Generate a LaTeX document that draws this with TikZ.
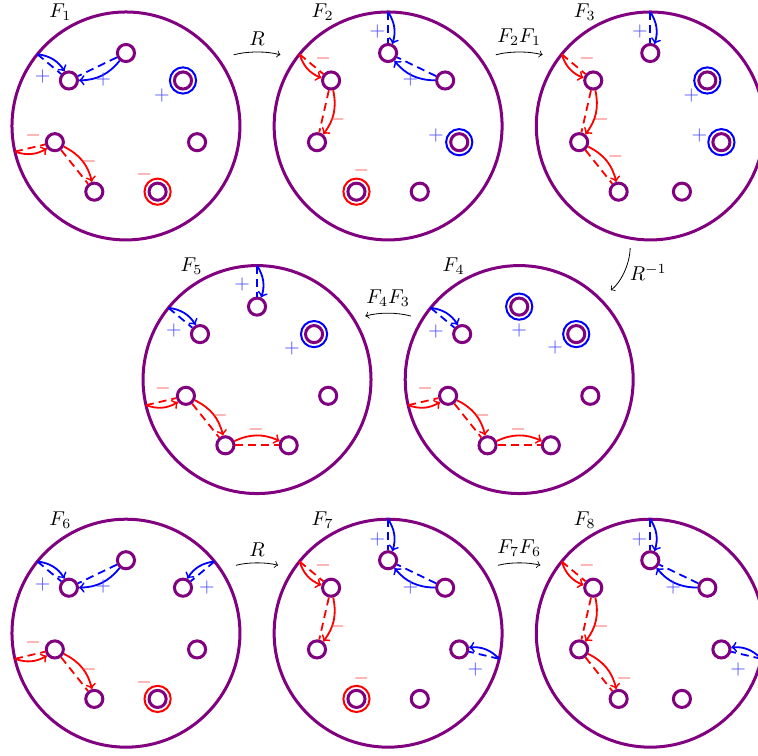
\documentclass[tikz,border=0pt]{standalone}
\usepackage{amsmath}
\usepackage{tikz}
\usetikzlibrary{calc}
\definecolor{surf}{rgb}{0.5,0,0.5}
\tikzset{
  disk/.style={circle,draw=surf,line width=1.5pt,minimum size=4cm,inner sep=0pt,outer sep=0pt},
  punct/.style={circle,draw=surf,line width=1.5pt,minimum size=0.3cm,inner sep=0pt},
  ring/.style={line width=1pt},
  band/.style={line width=0.9pt},
  bandback/.style={line width=0.9pt,dash pattern=on 4pt off 2.5pt},
  pl/.style={text=blue!70,inner sep=0pt},
  mi/.style={text=red!70,inner sep=0pt}
}

\begin{document}
\begin{tikzpicture}
  \useasboundingbox (-2.21,2.21) rectangle (11.09,-11.04);
  % disks with seven punctures each
  \foreach \d/\xx/\yy in {1/0/0,2/4.6/0,3/9.2/0,4/6.9/-4.45,5/2.3/-4.45,6/0/-8.9,7/4.6/-8.9,8/9.2/-8.9} {
    \node[disk] (d\d) at (\xx,\yy) {};
    \node (f\d) at ($(d\d)+(120:2.3)$) {$F_\d$};
    \foreach \k in {0,...,6}
      \node[punct] (d\d-\k) at ($(d\d)+(90+\k*360/7:1.28)$) {};
  }
  % marked punctures
  \foreach \p in {1-6,2-5,3-6,3-5,4-0,4-6,5-6} \draw[ring,blue] (d\p) circle (0.23);
  \foreach \p in {1-4,2-3,6-4,7-3} \draw[ring,red] (d\p) circle (0.23);
  % arcs: solid with tip, dashed companion
  \foreach \a/\b/\s in {d1.141/d1-1/25,d1-0/d1-1/25,d2.90/d2-0/25,d2-6/d2-0/25,d3.90/d3-0/25,
      d4.141/d4-1/25,d5.90/d5-0/25,d5.141/d5-1/25,d6.141/d6-1/25,d6-0/d6-1/25,d6.39/d6-6/-25,
      d7.90/d7-0/25,d7-6/d7-0/25,d7.347/d7-5/-25,d8.90/d8-0/25,d8-6/d8-0/25,d8.347/d8-5/-25} {
    \draw[band,blue,->] (\a) to[bend left=\s] (\b);
    \draw[bandback,blue] (\a) -- (\b);
  }
  \foreach \a/\b/\s in {d1.193/d1-2/-25,d1-2/d1-3/25,d2.141/d2-1/-25,d2-1/d2-2/25,
      d3.141/d3-1/-25,d3-1/d3-2/25,d3-2/d3-3/25,d4.193/d4-2/-25,d4-2/d4-3/25,d4-3/d4-4/25,
      d5.193/d5-2/-25,d5-2/d5-3/25,d5-3/d5-4/25,d6.193/d6-2/-25,d6-2/d6-3/25,
      d7.141/d7-1/-25,d7-1/d7-2/25,d8.141/d8-1/-25,d8-1/d8-2/25,d8-2/d8-3/25} {
    \draw[band,red,->] (\a) to[bend left=\s] (\b);
    \draw[bandback,red] (\a) -- (\b);
  }
  % signs
  \foreach \d/\xx/\yy [count=\i] in {1/-1.46/0.86,1/-0.40/0.81,1/0.63/0.54,
      2/-0.19/1.65,2/0.39/0.81,2/0.84/-0.16,3/-0.18/1.65,3/0.72/0.53,3/0.86/-0.16,
      4/-1.46/0.84,4/0/0.86,4/0.63/0.56,5/-0.26/1.67,5/-1.46/0.86,5/0.61/0.54,
      6/-1.46/0.86,6/-0.40/0.82,6/1.42/0.81,7/-0.19/1.65,7/0.39/0.81,7/1.53/-0.63,
      8/-0.19/1.65,8/0.40/0.81,8/1.54/-0.63}
    \node[pl] (pl\i) at ($(d\d)+(\xx,\yy)$) {$+$};
  \foreach \d/\xx/\yy [count=\i] in {1/-1.63/-0.16,1/-0.65/-0.63,1/0.32/-0.86,
      2/-1.14/1.18,2/-0.89/0.12,2/-0.47/-0.79,3/-1.11/1.18,3/-0.86/0.12,3/-0.61/-0.54,
      4/-1.65/-0.16,4/-0.65/-0.63,4/-0.02/-0.88,5/-1.65/-0.16,5/-0.65/-0.63,5/-0.02/-0.88,
      6/-1.63/-0.16,6/-0.65/-0.63,6/0.32/-0.86,7/-1.14/1.18,7/-0.89/0.12,7/-0.47/-0.79,
      8/-1.11/1.18,8/-0.86/0.12,8/-0.46/-0.79}
    \node[mi] (mi\i) at ($(d\d)+(\xx,\yy)$) {$-$};
  % maps between the disks
  \draw[->,shorten <=8pt,shorten >=8pt] (d1.36) to[bend left=15] node[above] (m1) {$R$} (d2.144);
  \draw[->,shorten <=8pt,shorten >=8pt] (d2.36) to[bend left=15] node[above] (m2) {$F_2F_1$} (d3.144);
  \draw[->,shorten <=5pt,shorten >=7pt] (d3.260) to[bend left=25] node[right] (m3) {$R^{-1}$} (d4.45);
  \draw[->,shorten <=6pt,shorten >=6pt] (d4.148) to[bend right=15] node[above] (m4) {$F_4F_3$} (d5.32);
  \draw[->,shorten <=8pt,shorten >=8pt] (d6.34) to[bend left=15] node[above] (m6) {$R$} (d7.146);
  \draw[->,shorten <=8pt,shorten >=8pt] (d7.34) to[bend left=15] node[above] (m7) {$F_7F_6$} (d8.146);
\end{tikzpicture}
\end{document}
